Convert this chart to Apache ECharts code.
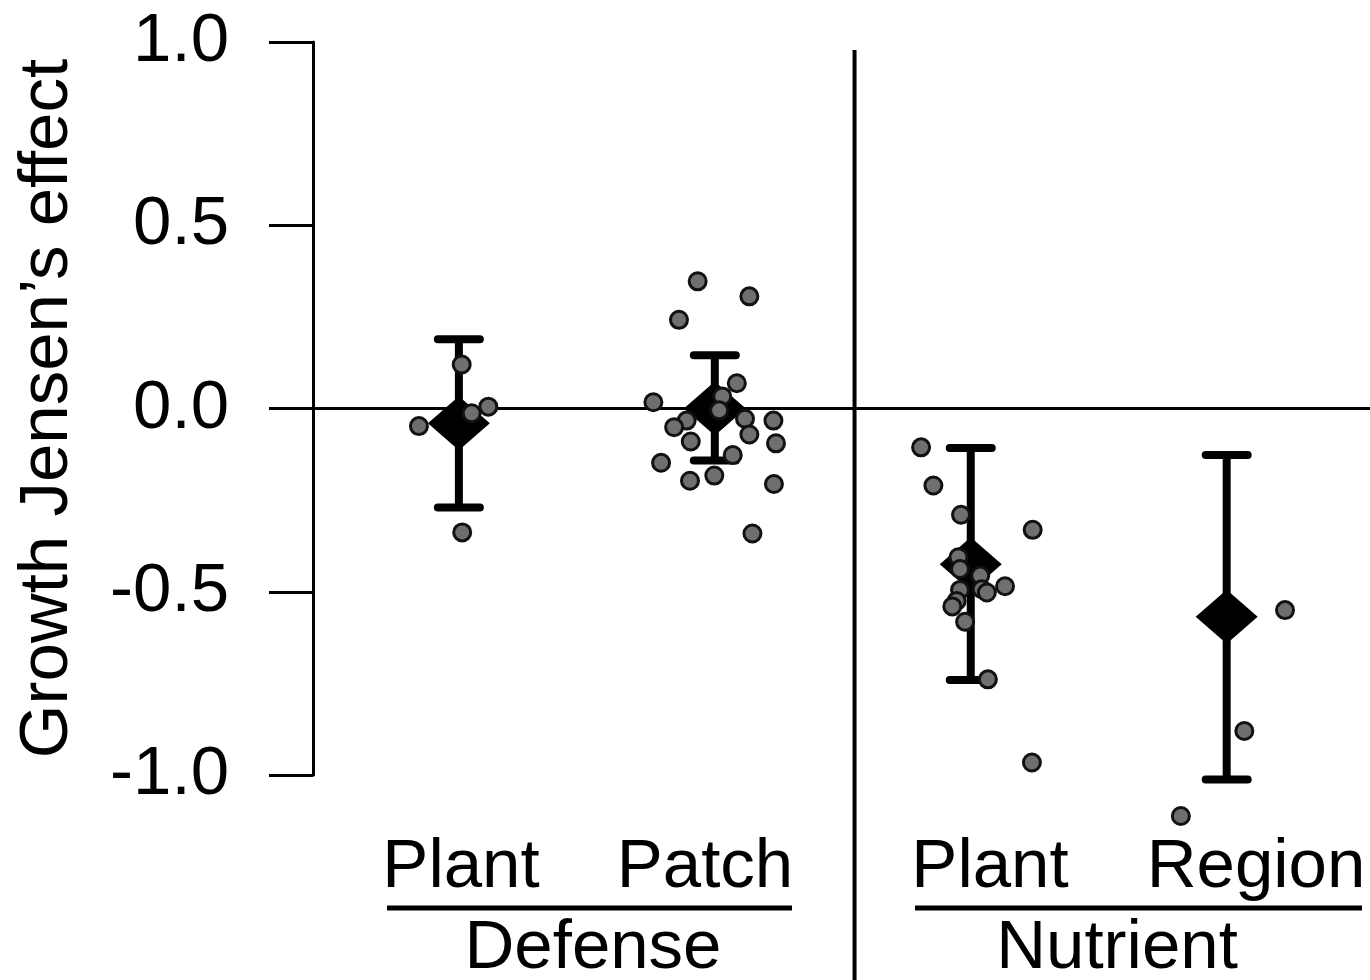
<!DOCTYPE html>
<html>
<head>
<meta charset="utf-8">
<script src="https://cdn.jsdelivr.net/npm/echarts@6/dist/echarts.min.js"></script>
<style>
html,body{margin:0;padding:0;background:#fff;}
#chart{width:1370px;height:980px;}
</style>
</head>
<body>
<div id="chart"></div>
<script>
// ---- data ----
const categories = ["Plant", "Patch", "Plant", "Region"];
const groups = ["Defense", "Nutrient"];
const groupX = [1, 2, 3, 4];
const means = [-0.04, 0.00, -0.425, -0.568];
const ciLow = [-0.27, -0.142, -0.741, -1.012];
const ciHigh = [0.189, 0.145, -0.108, -0.127];
const yTickValues = [-1.0, -0.5, 0.0, 0.5, 1.0];

// individual (jittered) observations: [x, y]
const defensePlantPts = [
  [1.011, 0.120], [0.844, -0.048], [1.050, -0.013], [1.115, 0.005], [1.013, -0.338]
];
const defensePatchPts = [
  [1.933, 0.347], [2.135, 0.306], [1.860, 0.242], [2.086, 0.069], [2.029, 0.033],
  [1.760, 0.017], [2.017, -0.005], [1.890, -0.033], [2.118, -0.028], [2.229, -0.033],
  [1.841, -0.051], [2.135, -0.071], [1.906, -0.090], [2.239, -0.095], [2.070, -0.127],
  [1.790, -0.148], [1.998, -0.183], [1.903, -0.197], [2.231, -0.206], [2.147, -0.341]
];
const nutrientPlantPts = [
  [2.806, -0.106], [2.854, -0.210], [2.962, -0.290], [3.242, -0.331], [2.952, -0.406],
  [2.958, -0.438], [3.037, -0.456], [3.134, -0.485], [2.958, -0.495], [3.043, -0.493],
  [3.063, -0.502], [2.945, -0.525], [2.928, -0.540], [2.978, -0.582], [3.067, -0.739],
  [3.239, -0.966]
];
const nutrientRegionPts = [
  [4.228, -0.550], [4.069, -0.880], [3.821, -1.112]
];

const dividerX = 2.546;

// ---- chart ----
const FONT = '"Liberation Sans", Arial, Helvetica, sans-serif';
const chart = echarts.init(document.getElementById('chart'), null, {renderer: 'canvas'});

const errData = groupX.map((x, i) => [x, ciLow[i], ciHigh[i]]);
const meanData = groupX.map((x, i) => [x, means[i]]);
const ptStyle = {color: '#6f6f6f', borderColor: '#111', borderWidth: 3, opacity: 1};

function ptSeries(name, data) {
  return {
    name: name, type: 'scatter', data: data, z: 5, clip: false,
    symbol: 'circle', symbolSize: 17, itemStyle: ptStyle, silent: true,
    emphasis: {disabled: true}
  };
}

const option = {
  animation: false,
  backgroundColor: '#fff',
  grid: {left: 313, right: 0, top: 42, bottom: 205, containLabel: false},
  xAxis: {
    type: 'value', min: 0.43, max: 4.56,
    show: false, splitLine: {show: false}
  },
  yAxis: {
    type: 'value', min: -1, max: 1, interval: 0.5,
    name: "Growth Jensen\u2019s effect",
    nameLocation: 'middle', nameRotate: 90, nameGap: 231,
    nameTextStyle: {fontFamily: FONT, fontSize: 69, color: '#000'},
    axisLine: {show: true, lineStyle: {color: '#000', width: 3}},
    axisTick: {show: true, length: 44, inside: false, lineStyle: {color: '#000', width: 3}},
    axisLabel: {
      show: true, margin: 84, fontFamily: FONT, fontSize: 69, color: '#000',
      formatter: v => v.toFixed(1)
    },
    splitLine: {show: false}
  },
  series: [
    {
      name: 'divider', type: 'line', z: 1, clip: false, silent: true,
      symbol: 'none', data: [[dividerX, 0.978], [dividerX, -1.6]],
      lineStyle: {color: '#000', width: 4},
      markLine: {
        silent: true, symbol: ['none', 'none'], label: {show: false},
        lineStyle: {color: '#000', width: 3, type: 'solid'},
        data: [{yAxis: 0}]
      }
    },
    {
      name: 'ci', type: 'custom', z: 3, clip: false, silent: true,
      data: errData,
      renderItem: function (params, api) {
        const x = api.value(0);
        const lo = api.coord([x, api.value(1)]);
        const hi = api.coord([x, api.value(2)]);
        const hw = 21;
        const st = {stroke: '#000', lineWidth: 8, lineCap: 'round'};
        return {
          type: 'group',
          children: [
            {type: 'line', shape: {x1: lo[0], y1: lo[1], x2: hi[0], y2: hi[1]}, style: {stroke: '#000', lineWidth: 8}},
            {type: 'line', shape: {x1: hi[0] - hw, y1: hi[1], x2: hi[0] + hw, y2: hi[1]}, style: st},
            {type: 'line', shape: {x1: lo[0] - hw, y1: lo[1], x2: lo[0] + hw, y2: lo[1]}, style: st}
          ]
        };
      }
    },
    {
      name: 'mean', type: 'scatter', z: 4, clip: false, silent: true,
      data: meanData, symbol: 'diamond', symbolSize: [62, 54],
      itemStyle: {color: '#000', opacity: 1},
      emphasis: {disabled: true}
    },
    ptSeries('Defense Plant', defensePlantPts),
    ptSeries('Defense Patch', defensePatchPts),
    ptSeries('Nutrient Plant', nutrientPlantPts),
    ptSeries('Nutrient Region', nutrientRegionPts)
  ],
  graphic: [
    {type: 'text', x: 461, y: 868, style: {text: categories[0], font: '69px ' + FONT, fill: '#000', align: 'center', verticalAlign: 'middle'}},
    {type: 'text', x: 705, y: 868, style: {text: categories[1], font: '69px ' + FONT, fill: '#000', align: 'center', verticalAlign: 'middle'}},
    {type: 'text', x: 990, y: 868, style: {text: categories[2], font: '69px ' + FONT, fill: '#000', align: 'center', verticalAlign: 'middle'}},
    {type: 'text', x: 1256, y: 868, style: {text: categories[3], font: '69px ' + FONT, fill: '#000', align: 'center', verticalAlign: 'middle'}},
    {type: 'line', shape: {x1: 387, y1: 908, x2: 792, y2: 908}, style: {stroke: '#000', lineWidth: 5}},
    {type: 'line', shape: {x1: 915, y1: 908, x2: 1362, y2: 908}, style: {stroke: '#000', lineWidth: 5}},
    {type: 'text', x: 593, y: 949, style: {text: groups[0], font: '69px ' + FONT, fill: '#000', align: 'center', verticalAlign: 'middle'}},
    {type: 'text', x: 1117, y: 949, style: {text: groups[1], font: '69px ' + FONT, fill: '#000', align: 'center', verticalAlign: 'middle'}}
  ]
};
chart.setOption(option);
</script>
</body>
</html>
